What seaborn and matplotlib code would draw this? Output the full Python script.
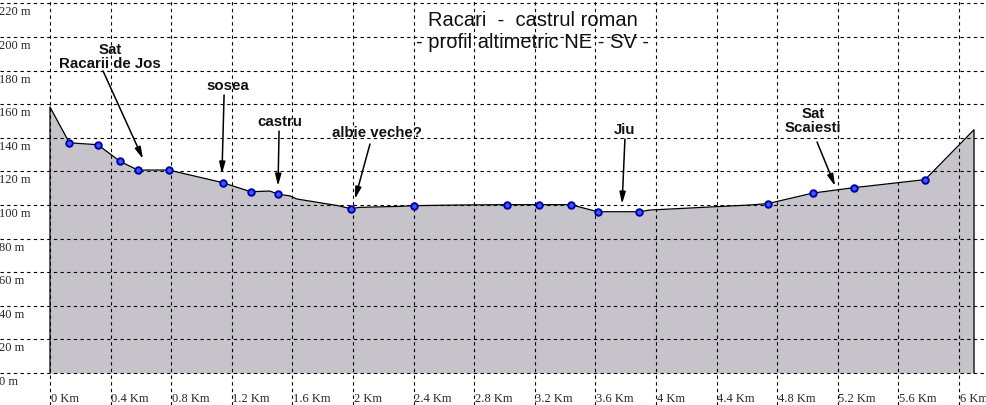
import numpy as np
import pandas as pd
import matplotlib
matplotlib.use('Agg')
import matplotlib.pyplot as plt
import seaborn as sns

# profile vertices: distance (km) and altitude (m)
profile_km = [0.0, 0.128, 0.315, 0.462, 0.579, 0.785, 1.140, 1.325, 1.452, 1.503,
              1.584, 1.628, 1.901, 1.985, 2.046, 2.310, 2.403, 2.706, 3.014, 3.230,
              3.437, 3.615, 3.890, 3.960, 4.310, 4.620, 4.737, 5.036, 5.305, 5.776, 6.099]
profile_m = [158.3, 137.0, 135.9, 126.0, 120.8, 120.8, 113.3, 107.9, 108.3, 106.5,
             105.4, 103.6, 99.6, 97.8, 98.6, 99.2, 99.6, 100.0, 100.2, 100.2,
             100.2, 96.0, 96.0, 97.0, 98.6, 100.0, 100.8, 107.1, 110.3, 115.1, 144.8]

# measured points (blue markers)
marker_km = [0.128, 0.315, 0.462, 0.579, 0.785, 1.140, 1.325, 1.503, 1.985, 2.403,
             3.014, 3.230, 3.437, 3.615, 3.890, 4.737, 5.036, 5.305, 5.776]
marker_m = [137.0, 135.9, 126.0, 120.8, 120.8, 113.3, 107.9, 106.5, 97.8, 99.6,
            100.2, 100.2, 100.2, 96.0, 96.0, 100.8, 107.1, 110.3, 115.1]

x_ticks = [0, 0.4, 0.8, 1.2, 1.6, 2, 2.4, 2.8, 3.2, 3.6, 4, 4.4, 4.8, 5.2, 5.6, 6]
x_labels = ['0 Km', '0.4 Km', '0.8 Km', '1.2 Km', '1.6 Km', '2 Km', '2.4 Km', '2.8 Km',
            '3.2 Km', '3.6 Km', '4 Km', '4.4 Km', '4.8 Km', '5.2 Km', '5.6 Km', '6 Km']
y_ticks = [0, 20, 40, 60, 80, 100, 120, 140, 160, 180, 200, 220]
y_labels = ['0 m', '20 m', '40 m', '60 m', '80 m', '100 m', '120 m', '140 m',
            '160 m', '180 m', '200 m', '220 m']

# annotations: text, text position, arrow tail, arrow head
notes = [
    ('Sat\nRacarii de Jos', (0.396, 188.7), (0.350, 179.8), (0.614, 127.4)),
    ('sosea', (1.175, 171.4), (1.149, 165.5), (1.135, 118.5)),
    ('castru', (1.518, 150.0), (1.512, 144.0), (1.505, 111.3)),
    ('albie veche?', (2.158, 143.5), (2.112, 136.3), (2.013, 103.6)),
    ('Jiu', (3.795, 145.2), (3.795, 139.3), (3.776, 100.6)),
    ('Sat\nScaiesti', (5.036, 150.6), (5.063, 137.5), (5.182, 111.3)),
]

sns.set_style('white')
plt.rcParams['font.family'] = ['Liberation Sans', 'DejaVu Sans']

fig = plt.figure(figsize=(9.86, 4.06), dpi=100)
ax = fig.add_axes([0, 0, 1, 1])
# pixel mapping: 0 km at x=50, 151.5 px/km ; 0 m at y=374, 1.68 px/m
ax.set_xlim(-50 / 151.5, (986 - 50) / 151.5)
ax.set_ylim(-(406 - 374) / 1.68, 374 / 1.68)
ax.axis('off')

# filled terrain
ax.fill_between(profile_km, profile_m, 0, color='#c6c4ca', lw=0, zorder=1)

# dashed grid
for y in y_ticks:
    ax.axhline(y, color='black', lw=0.8, ls=(0, (3, 3)), zorder=2)
for x in x_ticks:
    ax.axvline(x, color='black', lw=0.8, ls=(0, (3, 3)), zorder=2)

# profile outline, closed down to 0 at both ends
line_df = pd.DataFrame({
    'km': [profile_km[0]] + profile_km + [profile_km[-1]],
    'm': [0] + profile_m + [0],
})
sns.lineplot(data=line_df, x='km', y='m', ax=ax, color='black', lw=0.9,
             estimator=None, sort=False, zorder=3)

sns.scatterplot(x=marker_km, y=marker_m, ax=ax, marker='o', s=22,
                color='#3a5cff', edgecolor='#0000a8', linewidth=1.4, zorder=4)

# axis labels as text
serif = ['Liberation Serif', 'DejaVu Serif']
for x, lab in zip(x_ticks, x_labels):
    ax.text(x + 0.004, -16.8, lab, family=serif, fontsize=9, ha='left', va='baseline')
for y, lab in zip(y_ticks, y_labels):
    ax.text(-0.001, y - 6.6, lab, transform=ax.get_yaxis_transform(),
            family=serif, fontsize=9, ha='left', va='baseline')

# title
ax.text(3.188, 210.2, 'Racari  -  castrul roman', fontsize=14.5, ha='center',
        va='center', color='#111111')
ax.text(3.188, 197.3, '- profil altimetric NE - SV -', fontsize=14.5, ha='center',
        va='center', color='#111111')

for txt, tpos, tail, head in notes:
    ax.text(tpos[0], tpos[1], txt, fontsize=10.8, fontweight='bold', ha='center',
            va='center', linespacing=1.05, color='#111111', zorder=5)
    ax.annotate('', xy=head, xytext=tail,
                arrowprops=dict(arrowstyle='-|>,head_length=0.7,head_width=0.18',
                                color='black', lw=1.1, shrinkA=0, shrinkB=0),
                zorder=5)

fig.savefig('out.png', dpi=100, facecolor='white')
